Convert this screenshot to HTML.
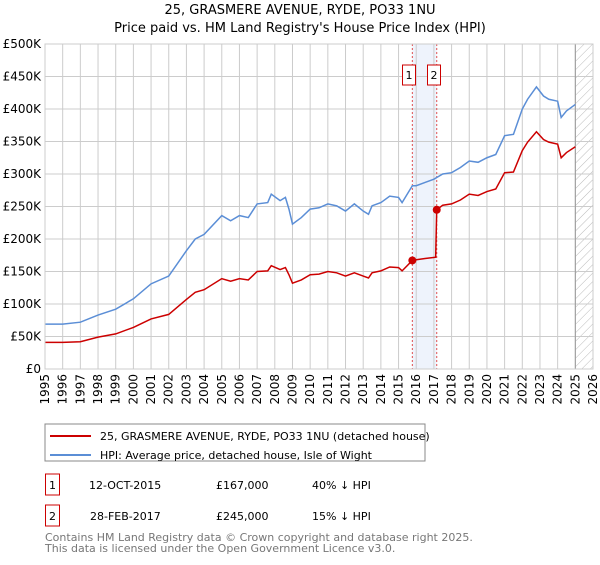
<!DOCTYPE html>
<html><head><meta charset="utf-8"><style>
body{margin:0;background:#fff;font-family:"Liberation Sans","DejaVu Sans",sans-serif;}
svg text{font-family:"DejaVu Sans","Liberation Sans",sans-serif;}
</style></head><body>
<svg width="600" height="560" xmlns="http://www.w3.org/2000/svg" id="chart">
<defs><pattern id="hatch" width="6" height="6" patternUnits="userSpaceOnUse" patternTransform="rotate(45)"><line x1="0" y1="0" x2="0" y2="6" stroke="#bbb" stroke-width="1"/></pattern></defs>
<text x="300" y="14" text-anchor="middle" font-size="13">25, GRASMERE AVENUE, RYDE, PO33 1NU</text>
<text x="300" y="32" text-anchor="middle" font-size="13">Price paid vs. HM Land Registry's House Price Index (HPI)</text>
<g id="grid"></g><g id="marks"></g><g id="axes"></g>
<rect x="45" y="424" width="380" height="37" fill="#fff" stroke="#888"/>
<line x1="50" y1="436" x2="91" y2="436" stroke="#cc0000" stroke-width="2"/>
<text x="100" y="440" font-size="11">25, GRASMERE AVENUE, RYDE, PO33 1NU (detached house)</text>
<line x1="50" y1="455" x2="91" y2="455" stroke="#5b8ed6" stroke-width="2"/>
<text x="100" y="459" font-size="11">HPI: Average price, detached house, Isle of Wight</text>
<rect x="45.5" y="474" width="14" height="21" fill="none" stroke="#cc0000"/>
<text x="52.5" y="489" font-size="11" text-anchor="middle">1</text>
<text x="89" y="489" font-size="11">12-OCT-2015</text>
<text x="216" y="489" font-size="11">£167,000</text>
<text x="312" y="489" font-size="11">40% ↓ HPI</text>
<rect x="45.5" y="505" width="14" height="21" fill="none" stroke="#cc0000"/>
<text x="52.5" y="520" font-size="11" text-anchor="middle">2</text>
<text x="90" y="520" font-size="11">28-FEB-2017</text>
<text x="216" y="520" font-size="11">£245,000</text>
<text x="312" y="520" font-size="11">15% ↓ HPI</text>
<text x="45" y="541" font-size="11" fill="#777">Contains HM Land Registry data © Crown copyright and database right 2025.</text>
<text x="45" y="552" font-size="11" fill="#777">This data is licensed under the Open Government Licence v3.0.</text>
</svg>
<script>
const hpiYears=[1995,1996,1997,1998,1999,2000,2001,2002,2003,2003.5,2004,2005,2005.5,2006,2006.5,2007,2007.6,2007.8,2008.3,2008.6,2008.8,2009,2009.5,2010,2010.5,2011,2011.5,2012,2012.5,2013,2013.3,2013.5,2014,2014.5,2015,2015.2,2015.78,2016,2016.5,2017,2017.5,2018,2018.5,2019,2019.5,2020,2020.5,2021,2021.5,2022,2022.3,2022.8,2023.2,2023.5,2024,2024.2,2024.5,2025];
const hpiValues=[69,69,72,83,92,108,131,143,182,200,207,236,228,236,233,254,256,269,259,264,246,223,233,246,248,254,251,243,254,243,238,251,256,266,264,256,282,282,287,292,300,302,310,320,318,325,330,359,361,400,415,434,420,415,412,387,397,407];
const priceYears=[1995,1996,1997,1998,1999,2000,2001,2002,2003,2003.5,2004,2005,2005.5,2006,2006.5,2007,2007.6,2007.8,2008.3,2008.6,2008.8,2009,2009.5,2010,2010.5,2011,2011.5,2012,2012.5,2013,2013.3,2013.5,2014,2014.5,2015,2015.2,2015.78,2016,2016.5,2017.1,2017.16,2017.5,2018,2018.5,2019,2019.5,2020,2020.5,2021,2021.5,2022,2022.3,2022.8,2023.2,2023.5,2024,2024.2,2024.5,2025];
const priceValues=[41,41,42,49,54,64,77,84,107,118,122,139,135,139,137,150,151,159,153,156,145,132,137,145,146,150,148,143,148,143,140,148,151,157,156,151,167,168,170,172,245,252,254,260,269,267,273,277,302,303,336,349,365,353,349,346,325,333,342];
const saleYears=[2015.78,2017.16];
const salePrices=[167,245];
const saleLabels=["1","2"];
const yTicks=[0,50,100,150,200,250,300,350,400,450,500];
const yTickLabels=["£0","£50K","£100K","£150K","£200K","£250K","£300K","£350K","£400K","£450K","£500K"];
const xTicks=[1995,1996,1997,1998,1999,2000,2001,2002,2003,2004,2005,2006,2007,2008,2009,2010,2011,2012,2013,2014,2015,2016,2017,2018,2019,2020,2021,2022,2023,2024,2025,2026];
const NS="http://www.w3.org/2000/svg";
const L=45,R=593,T=44,B=369;
const xs=y=>L+(y-1995)/(2026-1995)*(R-L);
const ys=v=>B-v/500*(B-T);
function mk(tag,attrs,parent){const e=document.createElementNS(NS,tag);for(const k in attrs)e.setAttribute(k,attrs[k]);parent.appendChild(e);return e;}
const grid=document.getElementById('grid'),marks=document.getElementById('marks'),axes=document.getElementById('axes');
const sh=mk('rect',{x:xs(saleYears[0]),y:T,width:xs(saleYears[1])-xs(saleYears[0]),height:B-T,fill:'#eef3fc'},grid);


const hat=mk('rect',{x:xs(2025),y:T,width:R-xs(2025),height:B-T,fill:'url(#hatch)'},grid);


yTicks.forEach((v,i)=>{
 const g=mk('line',{x1:L,x2:R,y1:ys(v),y2:ys(v),stroke:'#ccc','stroke-width':1},grid);
 
 
 const t=mk('text',{x:L-4,y:ys(v)+4,'text-anchor':'end','font-size':12},axes);
 t.textContent=yTickLabels[i];
 
 
});
xTicks.forEach(y=>{
 const g=mk('line',{x1:xs(y),x2:xs(y),y1:T,y2:B,stroke:'#ccc','stroke-width':1},grid);
 
 
 const t=mk('text',{x:0,y:0,'text-anchor':'end','font-size':12,transform:`translate(${xs(y)+4},${B+5}) rotate(-90)`},axes);
 t.textContent=y;
 
 
});
const hl=mk('line',{x1:xs(2025),x2:xs(2025),y1:T,y2:B,stroke:'#999','stroke-width':1},grid);


saleYears.forEach((y,i)=>{
 const d=mk('line',{x1:xs(y),x2:xs(y),y1:T,y2:B,stroke:'#e05050','stroke-width':1,'stroke-dasharray':'2,2'},marks);
 
 
 const bx=mk('rect',{x:Math.round(xs(y))-10+0.5,y:65,width:13,height:20,fill:'#fff',stroke:'#cc0000'},marks);
 
 
 const t=mk('text',{x:Math.round(xs(y))-3,y:79,'text-anchor':'middle','font-size':11},marks);
 t.textContent=saleLabels[i];
 
 
});
const hp=mk('polyline',{points:hpiYears.map((y,i)=>xs(y)+','+ys(hpiValues[i])).join(' '),fill:'none',stroke:'#5b8ed6','stroke-width':1.5},marks);


const pp=mk('polyline',{points:priceYears.map((y,i)=>xs(y)+','+ys(priceValues[i])).join(' '),fill:'none',stroke:'#cc0000','stroke-width':1.5},marks);


saleYears.forEach((y,i)=>{
 const c=mk('circle',{cx:xs(y),cy:ys(salePrices[i]),r:4,fill:'#cc0000'},marks);
 
 
});
const ax=mk('rect',{x:L,y:T,width:R-L,height:B-T,fill:'none',stroke:'#ccc'},axes);


</script>
</body></html>
